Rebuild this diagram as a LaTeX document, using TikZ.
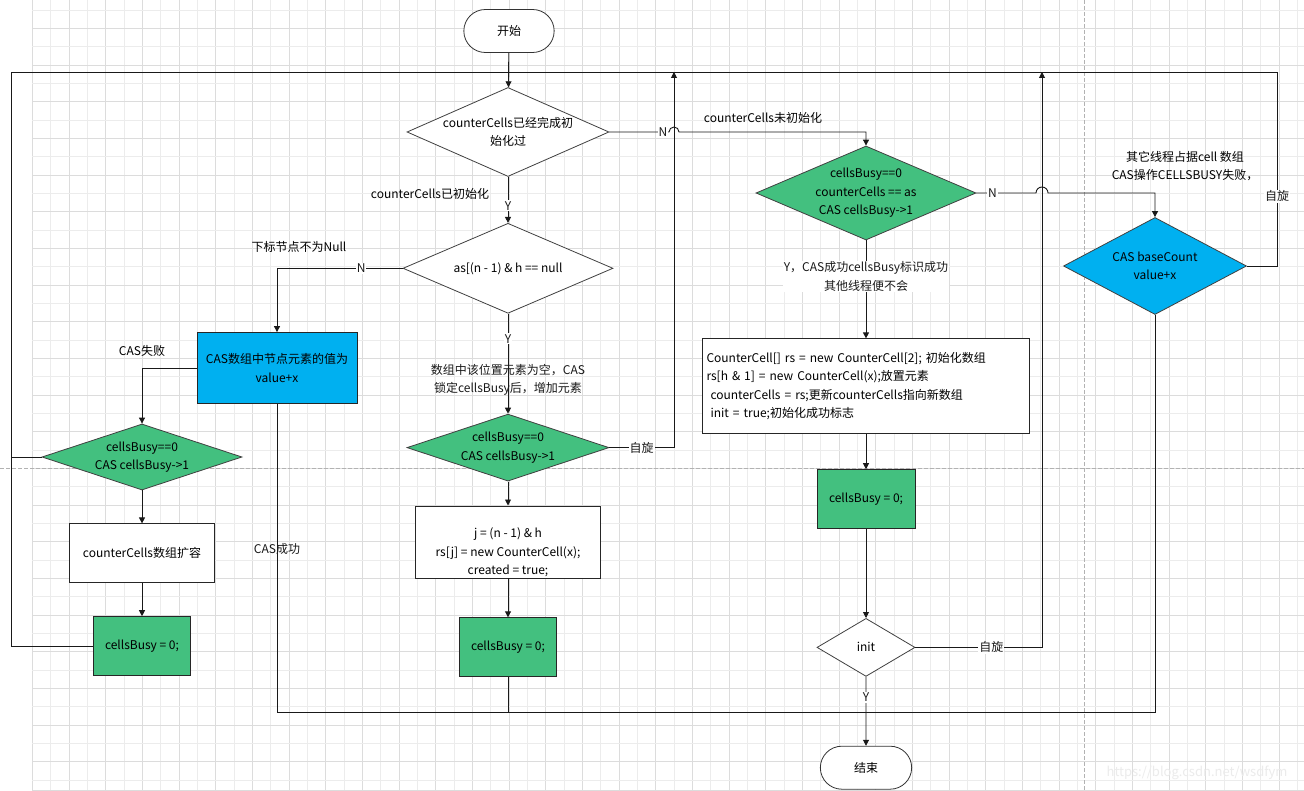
\documentclass[tikz,border=0pt]{standalone}
\usepackage{fontspec}
\setmainfont{Noto Sans CJK SC}
\usepackage{tikz}
\usetikzlibrary{arrows.meta,positioning,shapes.geometric,shapes.misc}
\definecolor{busygreen}{RGB}{67,192,127}
\definecolor{casblue}{RGB}{0,176,240}
\definecolor{gridmajor}{RGB}{220,220,220}
\definecolor{gridminor}{RGB}{236,236,236}

\begin{document}
\begin{tikzpicture}[x=1pt, y=-1pt,
  font=\fontsize{12}{18.5}\selectfont,
  term/.style={rounded rectangle, draw=black!80, fill=white, line width=0.8pt,
               minimum width=97pt, minimum height=43pt},
  box/.style={draw=black!85, fill=white, align=center, inner sep=4pt, line width=0.8pt},
  busy/.style={box, fill=busygreen, minimum width=97pt, minimum height=59pt},
  dec/.style={diamond, draw=black!75, fill=white, align=center, aspect=2,
              inner sep=-20pt, line width=0.8pt},
  lock/.style={dec, fill=busygreen},
  arr/.style={-{Triangle[length=6pt, width=6pt]}, line width=0.9pt, black!90},
  conn/.style={line width=0.9pt, black!90},
  lbl/.style={fill=white, inner sep=1pt},
  note/.style={align=center, inner sep=0pt},
  wm/.style={font=\fontsize{13}{15}\selectfont, text=black!8}]
\useasboundingbox (0,0) rectangle (1304,791);
\fill[white] (0,0) rectangle (1304,791);
\foreach \k in {0,...,34} {
  \draw[gridminor, line width=0.9pt] ({50.67+36.67*\k},0) -- ++(0,790);
  \draw[gridmajor, line width=0.9pt] ({32.3+36.67*\k},0) -- ++(0,790);
}
\foreach \k in {0,...,21}
  \draw[gridminor, line width=0.9pt] (32.3,{10+36.67*\k}) -- (1304,{10+36.67*\k});
\foreach \k in {0,...,20}
  \draw[gridmajor, line width=0.9pt] (32.3,{28.33+36.67*\k}) -- (1304,{28.33+36.67*\k});
\draw[gridmajor, line width=0.9pt] (32.3,790) -- (1304,790);
\draw[black!30, dash pattern=on 4pt off 2pt] (0,468) -- (1304,468);
\draw[black!30, dash pattern=on 4pt off 2pt] (1084,0) -- (1084,790);

\node[term] (start) at (509,31) {开始};
\node[dec, minimum width=202pt, minimum height=89pt] (check) at (508,132) {counterCells已经完成初\\始化过};
\node[dec, minimum width=210pt, minimum height=90pt, below=46pt of check] (slot) {as[(n - 1) \& h == null};
\node[lock, minimum width=202pt, minimum height=67pt, below=100pt of slot] (mlock) {cellsBusy==0\\CAS cellsBusy->1};
\node[box, inner ysep=0.5pt, minimum width=185pt, minimum height=72pt, below=24pt of mlock] (mnew)
  {\strut\\j = (n - 1) \& h\\rs[j] = new CounterCell(x);\\created = true;};
\node[busy, below=39pt of mnew] (mbusy) {cellsBusy = 0;};

\node[box, fill=casblue, inner xsep=2pt, minimum width=160pt, minimum height=71pt] (cas) at (277,368) {CAS数组中节点元素的值为\\value+x};
\node[lock, minimum width=200pt, minimum height=66pt] (llock) at (142,457) {cellsBusy==0\\CAS cellsBusy->1};
\node[box, minimum width=145pt, minimum height=59pt, below=33pt of llock] (grow) {counterCells数组扩容};
\node[busy, below=33pt of grow] (lbusy) {cellsBusy = 0;};

\node[lock, minimum width=220pt, minimum height=94pt] (rlock) at (866,193) {cellsBusy==0\\counterCells == as\\CAS cellsBusy->1};
\node[box, align=left, text width=319pt, minimum height=95pt, below=98pt of rlock] (initbox)
  {CounterCell[] rs = new CounterCell[2]; 初始化数组\\
   rs[h \& 1] = new CounterCell(x);放置元素\\
   \ counterCells = rs;更新counterCells指向新数组\\
   \ init = true;初始化成功标志};
\node[busy, minimum width=98pt, below=35pt of initbox] (rbusy) {cellsBusy = 0;};
\node[dec, minimum width=98pt, minimum height=58pt, below=89pt of rbusy] (initq) {init};
\node[term, minimum width=98pt, below=69pt of initq] (finish) {结束};
\node[dec, fill=casblue, minimum width=183pt, minimum height=97pt] (base) at (1155,266) {CAS baseCount\\value+x};

\coordinate (tl) at (11,72);
\coordinate (tr) at (1277,72);
\coordinate (bot) at (0,712);
\coordinate (j1) at (674,132);
\coordinate (j2) at (1042,193);

\draw[arr] (start) -- (check);
\draw[arr] (check) -- node[lbl, pos=0.63]{Y} (slot);
\draw[arr] (check.east) -- node[lbl, pos=0.9]{N} ([xshift=-5pt]j1) arc[start angle=180, end angle=0, radius=5pt] -| (rlock.north);
\draw[arr] (slot.west) -- node[lbl, pos=0.33]{N} (slot.west -| cas.north) -- (cas.north);
\draw[arr] (slot) -- node[lbl, pos=0.25]{Y} node[note, pos=0.66]{数组中该位置元素为空，CAS\\锁定cellsBusy后，增加元素} (mlock);
\draw[arr] (mlock) -- (mnew);
\draw[arr] (mnew) -- (mbusy);
\draw[conn] (mbusy.south) -- (mbusy.south |- bot);
\draw[arr] (mlock.east) -- node[lbl]{自旋} (mlock.east -| j1) -- (j1 |- tl);

\draw[arr] (cas.west) -| (llock.north);
\draw[arr] (llock) -- (grow);
\draw[arr] (grow) -- (lbusy);
\draw[conn] (llock.west) -- (llock.west -| tl);
\draw[conn] (base.east) -| node[lbl, pos=0.68]{自旋} (tr) -- (tl) |- (lbusy.west);
\draw[conn] (cas.south) -- node[note, pos=0.47]{CAS成功} (cas.south |- bot) -| (base.south);

\draw[arr] (rlock.east) -- node[lbl, pos=0.27]{N} ([xshift=-6pt]j2) arc[start angle=180, end angle=0, radius=6pt] -| (base.north);
\draw[arr] (rlock) -- node[lbl, pos=0.37, align=center]{Y，CAS成功cellsBusy标识成功\\其他线程便不会} (initbox);
\draw[arr] (initbox) -- (rbusy);
\draw[arr] (rbusy) -- (initq);
\draw[arr] (initq.east) -- node[lbl, pos=0.6]{自旋} (initq.east -| j2) -- (j2 |- tl);
\draw[arr] (initq) -- node[lbl, pos=0.3]{Y} (finish);

\node[note] (notnull) at (299,247) {下标节点不为Null};
\node[note] (inited) at (430,194) {counterCells已初始化};
\node[note] (uninit) at (763,118) {counterCells未初始化};
\node[note] (casfail) at (142,351) {CAS失败};
\node[note] (others) at (1185,166) {其它线程占据cell 数组\\CAS操作CELLSBUSY失败，};
\node[wm] (mark) at (1197,773) {https://blog.csdn.net/wsdfym};
\end{tikzpicture}
\end{document}
